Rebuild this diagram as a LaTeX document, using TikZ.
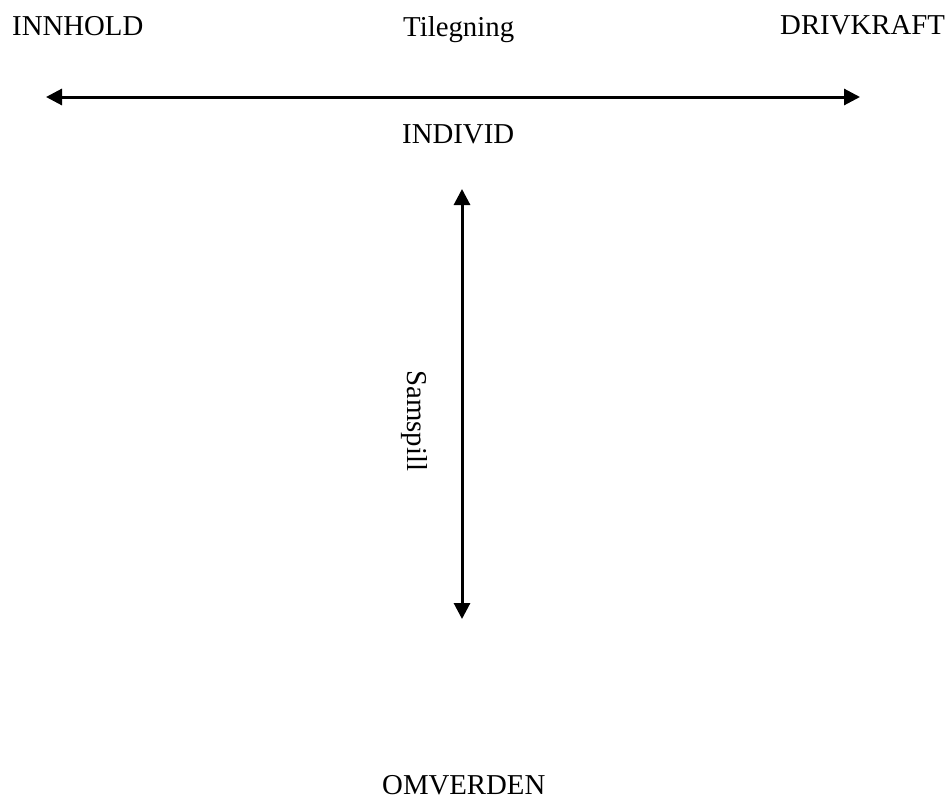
\documentclass[tikz,border=0pt]{standalone}
\usepackage{fontspec}
\setmainfont{Liberation Serif}
\usetikzlibrary{arrows.meta}
\begin{document}
\begin{tikzpicture}[x=1pt,y=-1pt,
  lbl/.style={inner sep=0pt,anchor=base west,font=\fontsize{28.8}{34}\selectfont},
  dbl/.style={line width=3pt,{Triangle[length=16pt,width=16pt]}-{Triangle[length=16pt,width=16pt]}}]
\useasboundingbox (0,0) rectangle (949,800);
\node[lbl] (innhold) at (12,36) {INNHOLD};
\node[lbl] (tilegning) at (403,37) {Tilegning};
\node[lbl] (drivkraft) at (780,35) {DRIVKRAFT};
\node[lbl] (individ) at (402,143) {INDIVID};
\node[lbl,text depth=0pt] (omverden) at (382,794) {OMVERDEN};
\node[lbl,rotate=-90] (samspill) at (407,370) {Samspill};
\coordinate (hl) at (46,97);
\coordinate (hr) at (860,97);
\coordinate (vt) at (462,189);
\coordinate (vb) at (462,619);
\draw[dbl] (hl) -- (hr);
\draw[dbl] (vt) -- (vb);
\end{tikzpicture}
\end{document}
